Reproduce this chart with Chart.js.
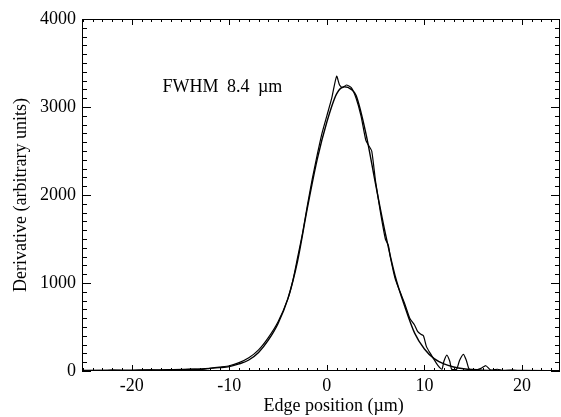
<!DOCTYPE html>
<html>
<head>
<meta charset="utf-8">
<script src="https://cdn.jsdelivr.net/npm/chart.js@4/dist/chart.umd.min.js"></script>
<style>
  body { margin: 0; background: #fff; }
  canvas { display: block; }
</style>
</head>
<body>
<canvas id="edgeChart" width="561" height="417"></canvas>
<script>
// measured derivative of the edge profile
var dataX = [-25, -24, -23, -22, -21, -20, -19, -18, -17, -16, -15, -14, -13, -12, -11, -10, -9, -8, -7, -6, -5, -4,
    -3.5, -3, -2.5, -2, -1.5, -1, -0.5, 0, 0.5, 1.0, 1.3, 1.6, 2.0, 2.5, 3.0, 3.5, 4.0, 4.3, 4.6, 5.0, 5.5, 6.0, 6.3, 6.5,
    7.0, 7.5, 8.0, 8.5, 9.0, 9.3, 9.6, 9.9, 10.2, 10.6, 11.0, 11.4, 11.8, 12.0, 12.3, 12.6, 12.8, 13.3, 13.6, 14.0,
    14.3, 14.6, 15.2, 15.8, 16.3, 16.8, 17.5, 18, 19, 20, 21, 22, 23, 24];
var dataY = [0, 5, 0, 10, 5, 0, 8, 12, 5, 15, 10, 20, 15, 30, 45, 60, 95, 150, 240, 380, 560, 820,
    1020, 1290, 1560, 1880, 2180, 2450, 2700, 2900, 3100, 3350, 3250, 3220, 3250, 3220, 3100, 2900, 2620, 2560, 2500,
    2150, 1800, 1500, 1430, 1300, 1050, 900, 760, 600, 520, 450, 420, 400, 280, 200, 130, 60, 20, 110, 180, 110,
    20, 20, 120, 190, 120, 20, 10, 30, 60, 10, 20, 5, 10, 0, 5, 0, 5, 0];

// smooth fit
var fitX = [-25, -22, -20, -18, -16, -14, -12, -11, -10, -9, -8, -7, -6, -5, -4, -3, -2, -1, 0, 1, 1.8, 2.5,
    3, 4, 5, 6, 7, 8, 9, 10, 11, 12, 13, 14, 16, 20, 24];
var fitY = [5, 8, 10, 12, 15, 20, 30, 38, 50, 80, 125, 210, 350, 540, 820, 1250, 1850, 2400, 2830, 3150, 3230, 3200,
    3130, 2700, 2120, 1560, 1080, 730, 430, 250, 140, 80, 45, 25, 10, 5, 3];

var xTicks = [-20, -10, 0, 10, 20];
var yTicks = [0, 1000, 2000, 3000, 4000];
var noteText = 'FWHM 8.4 \u00b5m';
var xTitle = 'Edge position (\u00b5m)';

var serif = 'Liberation Serif';

function toPoints(xs, ys) {
    return xs.map(function (x, i) { return { x: x, y: ys[i] }; });
}

// inward tick marks on all four sides + frame + texts
var frameTicks = {
    id: 'frameTicks',
    afterDraw: function (chart) {
        var c = chart.ctx, a = chart.chartArea;
        var sx = chart.scales.x, sy = chart.scales.y;
        c.save();
        c.strokeStyle = '#000';
        c.lineWidth = 1;
        c.strokeRect(a.left + 0.5, a.top + 0.5, a.right - a.left - 1, a.bottom - a.top - 1);
        c.beginPath();
        for (var v = Math.ceil(sx.min); v <= sx.max; v++) {
            var px = Math.round(sx.getPixelForValue(v)) + 0.5;
            var len = (v % 10 === 0) ? 6 : 3;
            c.moveTo(px, a.bottom); c.lineTo(px, a.bottom - len);
            c.moveTo(px, a.top); c.lineTo(px, a.top + len);
        }
        for (var w = 0; w <= sy.max; w += 100) {
            var py = Math.round(sy.getPixelForValue(w)) + 0.5;
            var l2 = (w % 1000 === 0) ? 9 : 5;
            c.moveTo(a.left, py); c.lineTo(a.left + l2, py);
            c.moveTo(a.right, py); c.lineTo(a.right - l2, py);
        }
        c.stroke();
        c.fillStyle = '#000';
        c.font = '18px "' + serif + '"';
        c.wordSpacing = '4px';
        c.textAlign = 'left';
        c.textBaseline = 'middle';
        c.fillText(noteText, sx.getPixelForValue(-16.85), sy.getPixelForValue(3220));
        c.wordSpacing = '0px';
        // x title, drawn by hand so it can sit where the original has it
        c.textAlign = 'center';
        c.fillText(xTitle, sx.getPixelForValue(0.7), 406);
        c.restore();
    }
};

var ctx = document.getElementById('edgeChart').getContext('2d');
new Chart(ctx, {
    type: 'line',
    data: {
        datasets: [{
            label: 'data',
            data: toPoints(dataX, dataY),
            borderColor: '#000',
            borderWidth: 1.2,
            pointRadius: 0,
            tension: 0.2,
            fill: false
        }, {
            label: 'fit',
            data: toPoints(fitX, fitY),
            borderColor: '#000',
            borderWidth: 1.4,
            pointRadius: 0,
            cubicInterpolationMode: 'monotone',
            fill: false
        }]
    },
    options: {
        responsive: false,
        animation: false,
        layout: { padding: { top: 19, right: 1, left: 0, bottom: 0 } },
        plugins: { legend: { display: false }, tooltip: { enabled: false } },
        scales: {
            x: {
                type: 'linear',
                min: -25.1,
                max: 23.9,
                afterBuildTicks: function (s) { s.ticks = xTicks.map(function (v) { return { value: v }; }); },
                afterFit: function (s) { s.height = 46; },
                grid: { display: false, drawTicks: false },
                border: { display: false },
                ticks: {
                    color: '#000', padding: 4, maxRotation: 0, font: { family: serif, size: 18 },
                    callback: function (v) { return String(v); }
                }
            },
            y: {
                min: 0,
                max: 4000,
                afterBuildTicks: function (s) { s.ticks = yTicks.map(function (v) { return { value: v }; }); },
                afterFit: function (s) { s.width = 82; },
                grid: { display: false, drawTicks: false },
                border: { display: false },
                ticks: {
                    color: '#000', padding: 6, font: { family: serif, size: 18 },
                    callback: function (v) { return String(v); }
                },
                title: {
                    display: true, text: 'Derivative (arbitrary units)', color: '#000',
                    padding: { top: 10, bottom: 0 }, font: { family: serif, size: 18 }
                }
            }
        }
    },
    plugins: [frameTicks]
});
</script>
</body>
</html>
